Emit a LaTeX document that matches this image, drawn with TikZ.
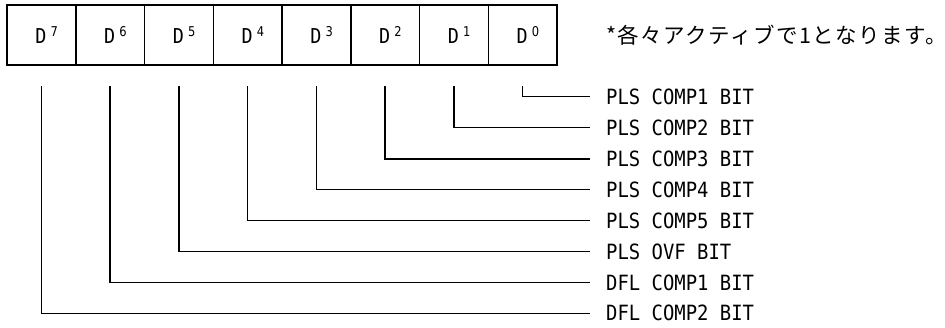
\documentclass[tikz,border=0pt]{standalone}
\usepackage{fontspec}
\newfontfamily\labfont[FakeStretch=0.9]{DejaVu Sans Mono}
\newfontfamily\supfont[FakeStretch=0.85]{DejaVu Sans}
\newfontfamily\jpfont[LetterSpace=7]{Noto Sans CJK JP}
\tikzset{
  cell/.style={draw, line width=1.5pt, minimum width=68.75pt, minimum height=60pt, inner sep=0pt, outer sep=0pt, anchor=center},
  bitlab/.style={anchor=west, inner sep=0pt, font=\labfont\fontsize{21}{21}\selectfont},
  conn/.style={line width=1.4pt},
}
\newcommand{\bitname}[1]{\raisebox{-5pt}{\hspace*{10.6pt}\fontsize{20.5}{20.5}\selectfont D\hspace{4pt}\raisebox{6.5pt}{\supfont\fontsize{13.5}{13.5}\selectfont #1}}}
\begin{document}
\begin{tikzpicture}[x=1pt,y=-1pt]
\useasboundingbox (0,0) rectangle (945,327);
\foreach \b [evaluate=\b as \k using 7-\b] in {7,6,5,4,3,2,1,0}{
  \node[cell, font=\labfont] (d\b) at ({41.375+68.75*\k},35) {\bitname{\b}};
}
\node[anchor=west, inner sep=0pt, font=\jpfont\fontsize{21.5}{21.5}\selectfont] (note) at (606,35) {*各々アクティブで1となります。};
\node[bitlab] (l0) at (606,96.7) {PLS COMP1 BIT};
\node[bitlab] (l1) at (606,127.7) {PLS COMP2 BIT};
\node[bitlab] (l2) at (606,158.8) {PLS COMP3 BIT};
\node[bitlab] (l3) at (606,189.6) {PLS COMP4 BIT};
\node[bitlab] (l4) at (606,220.6) {PLS COMP5 BIT};
\node[bitlab] (l5) at (606,251.6) {PLS OVF BIT};
\node[bitlab] (l6) at (606,282.6) {DFL COMP1 BIT};
\node[bitlab] (l7) at (606,313.3) {DFL COMP2 BIT};
\foreach \b in {0,...,7}{
  \draw[conn] ([yshift=-21pt]d\b.south) |- ([xshift=-16pt]l\b.west);
}
\end{tikzpicture}
\end{document}
